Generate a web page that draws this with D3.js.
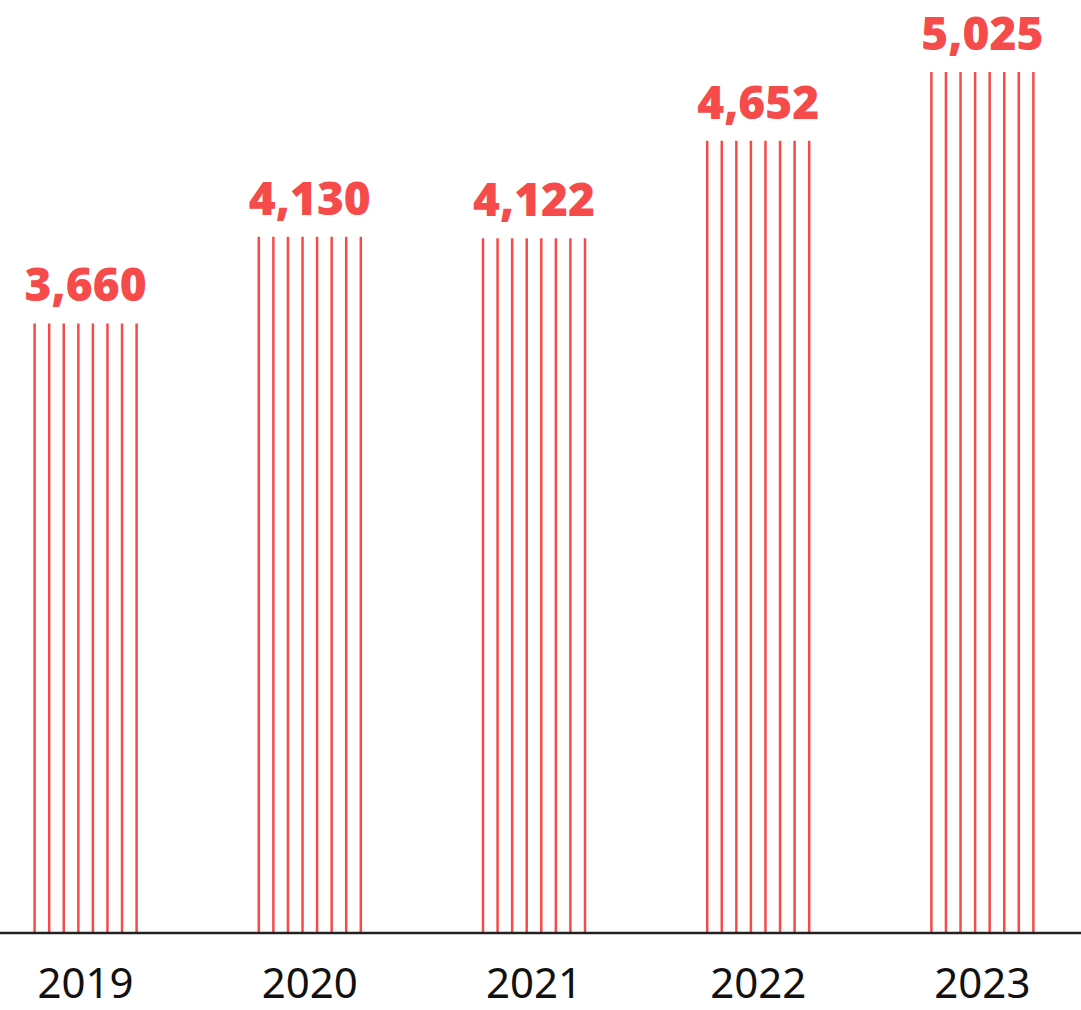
<!DOCTYPE html>
<html>
<head>
<meta charset="utf-8">
<script src="https://cdn.jsdelivr.net/npm/d3@7/dist/d3.min.js"></script>
<style>
  body { margin: 0; background: #fff; }
  svg { display: block; }
</style>
</head>
<body>
<svg id="chart" width="1081" height="1010"></svg>
<script>
var years = ['2019', '2020', '2021', '2022', '2023'];
var values = [3660, 4130, 4122, 4652, 5025];
var valueLabels = ['3,660', '4,130', '4,122', '4,652', '5,025'];

var red = '#f54b4b';
var svg = d3.select('#chart');

var x = d3.scaleBand().domain(years).range([-22, 1090]).paddingInner(0.52).paddingOuter(0.24);
var y = d3.scaleLinear().domain([350, 5025]).range([933, 72]);

var linesPerBar = 8;
var inner = d3.scaleLinear().domain([0, linesPerBar - 1]).range([0, 102]);

var bars = svg.selectAll('g.bar').data(years).enter().append('g')
	.attr('class', 'bar')
	.attr('transform', function(d){ return 'translate(' + (x(d) + x.bandwidth() / 2 - 51) + ',0)'; });

bars.each(function(d, i){
	d3.select(this).selectAll('line').data(d3.range(linesPerBar)).enter().append('line')
		.attr('x1', function(k){ return inner(k); })
		.attr('x2', function(k){ return inner(k); })
		.attr('y1', y(values[i]))
		.attr('y2', y.range()[0])
		.attr('stroke', red)
		.attr('stroke-width', 2.5);
});

bars.append('text')
	.attr('x', 51)
	.attr('y', function(d, i){ return y(values[i]) - 22; })
	.attr('text-anchor', 'middle')
	.attr('fill', red)
	.attr('font-family', 'Open Sans, sans-serif')
	.attr('font-weight', 800)
	.attr('font-size', 46)
	.text(function(d, i){ return valueLabels[i]; });

svg.append('line')
	.attr('x1', 0).attr('x2', 1081)
	.attr('y1', 933).attr('y2', 933)
	.attr('stroke', '#222').attr('stroke-width', 2.5);

bars.append('text')
	.attr('x', 51)
	.attr('y', 998)
	.attr('text-anchor', 'middle')
	.attr('fill', '#111')
	.attr('font-family', 'Noto Sans, sans-serif')
	.attr('font-size', 42)
	.text(function(d){ return d; });
</script>
</body>
</html>
